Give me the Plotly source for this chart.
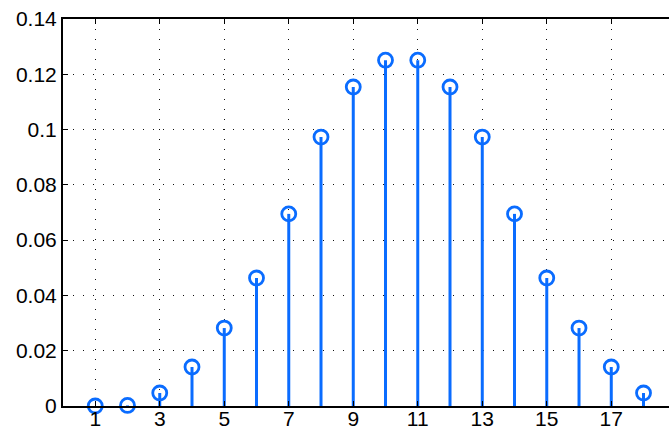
import plotly.graph_objects as go

# Sample index and probability values
n = list(range(1, 19))
p = [0.0, 0.0002, 0.0047, 0.0141, 0.0282, 0.0463, 0.0695, 0.0973, 0.1154, 0.1251,
     0.1251, 0.1154, 0.0973, 0.0695, 0.0463, 0.0282, 0.0141, 0.0047]

x_ticks = list(range(1, 18, 2))
y_ticks = [0, 0.02, 0.04, 0.06, 0.08, 0.1, 0.12, 0.14]
y_labels = ["0", "0.02", "0.04", "0.06", "0.08", "0.1", "0.12", "0.14"]

blue = "#0a6cff"

# stems: vertical segments from the baseline up to each value
sx, sy = [], []
for xi, yi in zip(n, p):
    sx += [xi, xi, None]
    sy += [0, yi, None]

fig = go.Figure()
fig.add_trace(go.Scatter(x=sx, y=sy, mode="lines",
                         line=dict(color=blue, width=3), hoverinfo="skip"))
fig.add_trace(go.Scatter(x=n, y=p, mode="markers", cliponaxis=False,
                         marker=dict(symbol="circle-open", size=14, color=blue,
                                     line=dict(color=blue, width=2.8))))

axis_font = dict(family="Liberation Sans, Arial, sans-serif", size=21, color="black")
grid_dash = "1px,9px"

fig.update_layout(
    width=669, height=432,
    margin=dict(l=63, r=0, t=19, b=26, autoexpand=False),
    plot_bgcolor="white", paper_bgcolor="white",
    showlegend=False,
    font=axis_font,
    xaxis=dict(range=[0, 18.79], tickvals=x_ticks, ticktext=[str(v) for v in x_ticks],
               showgrid=True, gridcolor="#111111", griddash=grid_dash, gridwidth=1,
               zeroline=False, showline=True, linecolor="black", linewidth=2,
               mirror="ticks", ticks="inside", ticklen=5, tickcolor="black",
               tickfont=axis_font, ticklabelstandoff=-7, automargin=False),
    yaxis=dict(range=[0, 0.14], tickvals=y_ticks, ticktext=y_labels,
               showgrid=True, gridcolor="#111111", griddash=grid_dash, gridwidth=1,
               zeroline=False, showline=True, linecolor="black", linewidth=2,
               mirror=False, ticks="inside", ticklen=5, tickcolor="black",
               tickfont=axis_font, automargin=False),
)

fig.write_html("out.html")
